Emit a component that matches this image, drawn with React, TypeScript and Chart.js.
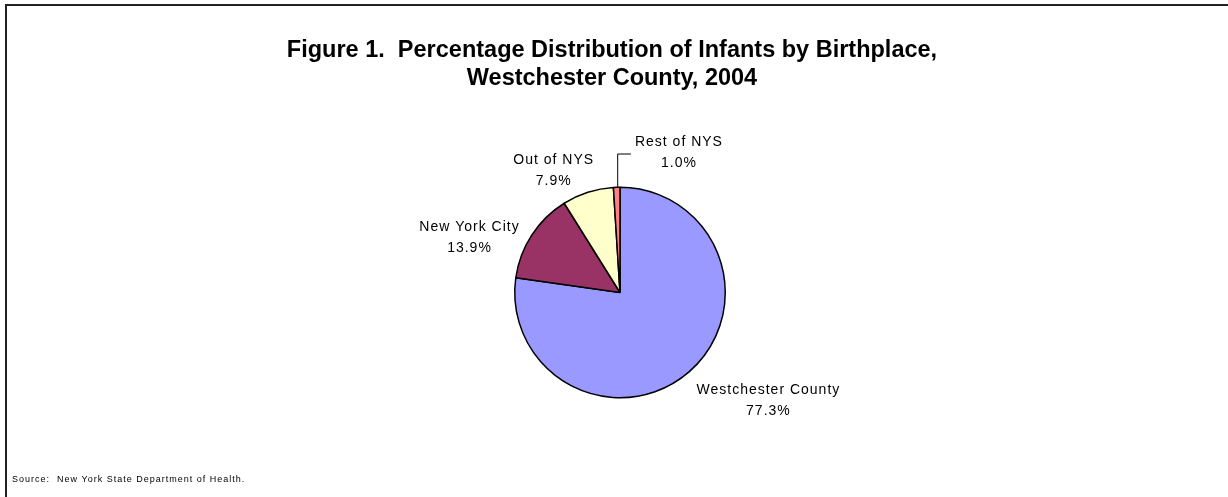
import React, { useEffect, useRef } from "react";
import { Chart, registerables } from "chart.js";

Chart.register(...registerables);

const categories = ["Westchester County", "New York City", "Out of NYS", "Rest of NYS"];
const percentages = [77.3, 13.9, 7.9, 1.0];
const sliceColors = ["#9999FF", "#993366", "#FFFFCC", "#FF8080"];
const titleLines = [
  "Figure 1.  Percentage Distribution of Infants by Birthplace,",
  "Westchester County, 2004",
];
const sourceNote = "Source:  New York State Department of Health.";

const W = 1228;
const H = 497;

// label block centres relative to the pie centre, in units of the radius (layout only)
const labelOffsets: [number, number][] = [
  [1.41, 1.03],
  [-1.43, -0.52],
  [-0.63, -1.16],
  [0.56, -1.33],
];

const decorPlugin = {
  id: "decor",
  afterDraw(chart: any) {
    const ctx: CanvasRenderingContext2D = chart.ctx;
    const meta = chart.getDatasetMeta(0);
    ctx.save();

    // title
    ctx.fillStyle = "#000";
    ctx.textAlign = "center";
    ctx.textBaseline = "middle";
    ctx.font = "bold 23.5px 'Liberation Sans', Arial, sans-serif";
    titleLines.forEach((t, i) => ctx.fillText(t, 612, 51 + i * 28));

    // data labels
    ctx.font = "14px 'Liberation Sans', Arial, sans-serif";
    (ctx as any).letterSpacing = "1px";
    ctx.fillStyle = "#000";
    meta.data.forEach((arc: any, i: number) => {
      const p = arc.getProps(["x", "y", "outerRadius", "startAngle", "endAngle"], true);
      const r = p.outerRadius;
      const [ox, oy] = labelOffsets[i];
      const cx = p.x + ox * r;
      const cy = p.y + oy * r;
      ctx.fillText(categories[i], cx, cy - 10.5);
      ctx.fillText(percentages[i].toFixed(1) + "%", cx, cy + 10.5);
      if (i === 3) {
        // leader line from the small slice to its label
        const mid = (p.startAngle + p.endAngle) / 2;
        const ex = p.x + Math.cos(mid) * r;
        const ey = p.y + Math.sin(mid) * r;
        const w = ctx.measureText(categories[i]).width;
        const ly = cy - 10.5 + 12;
        ctx.beginPath();
        ctx.strokeStyle = "#000";
        ctx.lineWidth = 1;
        ctx.moveTo(ex + 1, ey);
        ctx.lineTo(ex + 1, ly);
        ctx.lineTo(cx - w / 2 - 4, ly);
        ctx.stroke();
      }
    });

    // source note
    ctx.textAlign = "left";
    (ctx as any).letterSpacing = "1px";
    ctx.font = "9px 'Liberation Sans', Arial, sans-serif";
    ctx.fillText(sourceNote, 12, 480);
    (ctx as any).letterSpacing = "0px";

    // frame (only top and left edges fall inside the picture)
    ctx.beginPath();
    ctx.strokeStyle = "#222";
    ctx.lineWidth = 2;
    ctx.moveTo(6, H);
    ctx.lineTo(6, 5);
    ctx.lineTo(W, 5);
    ctx.stroke();
    ctx.restore();
  },
};

export default function App() {
  const ref = useRef<HTMLCanvasElement>(null);
  useEffect(() => {
    if (!ref.current) return;
    const chart = new Chart(ref.current, {
      type: "pie",
      data: {
        labels: categories,
        datasets: [
          {
            data: percentages,
            backgroundColor: sliceColors,
            borderColor: "#000",
            borderWidth: 1.5,
            hoverBorderWidth: 1.5,
            hoverOffset: 0,
          },
        ],
      },
      options: {
        responsive: false,
        animation: false,
        events: [],
        layout: { padding: { left: 514, right: 502, top: 186.5, bottom: 98.5 } },
        plugins: {
          legend: { display: false },
          tooltip: { enabled: false },
          title: { display: false },
        },
      },
      plugins: [decorPlugin],
    });
    return () => chart.destroy();
  }, []);
  return (
    <div style={{ position: "fixed", left: 0, top: 0, width: W, height: H, background: "#fff" }}>
      <canvas ref={ref} width={W} height={H} style={{ display: "block", width: W, height: H }} />
    </div>
  );
}
